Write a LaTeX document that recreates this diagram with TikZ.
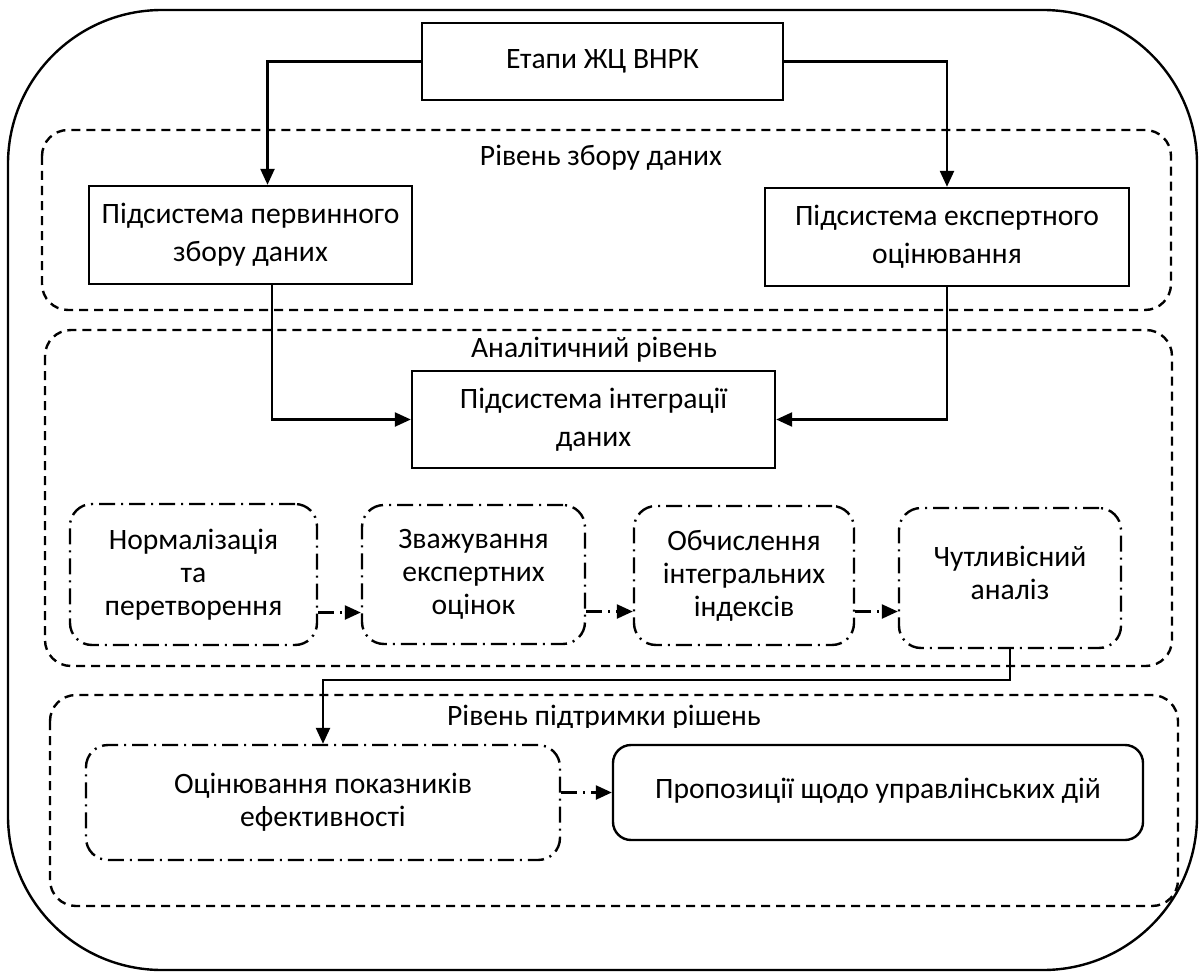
\documentclass[tikz,border=0pt]{standalone}
\usepackage{fontspec}
\setmainfont{Carlito}
\usepackage{tikz}
\usetikzlibrary{arrows.meta}

\tikzset{
  sysbox/.style={draw, line width=1.2pt, align=center, inner sep=0pt,
    font=\fontsize{14.8}{19}\selectfont},
  stepbox/.style={draw, line width=1.2pt, rounded corners=11pt, align=center, inner sep=0pt,
    dash pattern=on 8pt off 3pt on 1pt off 3pt, font=\fontsize{14.8}{16.5}\selectfont},
  levelframe/.style={line width=1.2pt, rounded corners=13pt, dash pattern=on 4.5pt off 3pt},
  levellabel/.style={font=\fontsize{14.8}{17}\selectfont},
  link/.style={->, line width=1.2pt},
  steplink/.style={->, line width=1.2pt, dash pattern=on 8pt off 3pt on 1pt off 3pt},
}

\begin{document}
\begin{tikzpicture}[x=0.5pt, y=-0.5pt, >={Triangle[length=8pt, width=7pt]}]

\useasboundingbox (0,0) rectangle (1200,974);

% ===========================
% Frames
% ===========================
\draw[line width=1.2pt, rounded corners=77pt] (8,10) rectangle (1197,970);

\draw[levelframe] (42,130) rectangle (1171,310);
\draw[levelframe] (45,330) rectangle (1172,666);
\draw[levelframe] (50,695) rectangle (1178,906);

% Level labels
\node[levellabel] (lvlzbir) at (601,158) {Рівень збору даних};
\node[levellabel] (lvlanalit) at (594,350) {Аналітичний рівень};
\begin{scope}
  \clip (430,690) rectangle (790,727);
  \node[levellabel, anchor=base] (lvlrishen) at (604,725) {Рівень підтримки рішень};
\end{scope}

% ===========================
% Subsystems
% ===========================
\node[sysbox, minimum width=180.5pt, minimum height=38.5pt] (etapy) at (602.5,61.5)
  {\raisebox{2pt}{Етапи ЖЦ ВНРК}};

\node[sysbox, minimum width=161.5pt, minimum height=49pt] (pervyn) at (250.5,235)
  {Підсистема первинного\\збору даних};
\node[sysbox, minimum width=182pt, minimum height=49pt] (ekspert) at (947,237)
  {Підсистема експертного\\оцінювання};

\node[sysbox, minimum width=181.5pt, minimum height=48.5pt] (integr) at (593.5,419.5)
  {Підсистема інтеграції\\даних};

% Analysis steps
\node[stepbox, minimum width=123.5pt, minimum height=70.5pt] (norm) at (193.5,574.5)
  {Нормалізація\\та\\перетворення};
\node[stepbox, minimum width=111.5pt, minimum height=69.5pt] (zvazh) at (473.5,574.5)
  {Зважування\\експертних\\оцінок};
\node[stepbox, minimum width=110pt, minimum height=69.5pt] (obch) at (744,575.5)
  {Обчислення\\інтегральних\\індексів};
\node[stepbox, minimum width=111pt, minimum height=70pt] (chutl) at (1010,578)
  {\raisebox{5pt}{Чутливісний}\\\raisebox{5pt}{аналіз}};

% Decision support
\node[stepbox, minimum width=237pt, minimum height=57.5pt] (otsin) at (323,802.5)
  {Оцінювання показників\\ефективності};
\node[sysbox, rounded corners=9pt, minimum width=265pt, minimum height=47.5pt] (propoz) at (878,792.5)
  {\raisebox{4.5pt}{Пропозиції щодо управлінських дій}};

% ===========================
% Connectors
% ===========================
\draw[link] (etapy.west) -| ([xshift=8.5pt]pervyn.north);
\draw[link] (etapy.east) -| (ekspert.north);

\draw[link] ([xshift=10.75pt]pervyn.south) |- (integr.west);
\draw[link] (ekspert.south) |- (integr.east);

\draw[steplink] ([yshift=-19pt]norm.east) -- ([yshift=-19pt]norm.east -| zvazh.west);
\draw[steplink] ([yshift=-18.5pt]zvazh.east) -- ([yshift=-18.5pt]zvazh.east -| obch.west);
\draw[steplink] ([yshift=-18pt]obch.east) -- ([yshift=-18pt]obch.east -| chutl.west);

\draw[link] (chutl.south) -- ++(0,31) -| (otsin.north);

\draw[steplink] (otsin.east |- propoz.west) -- (propoz.west);

\end{tikzpicture}
\end{document}
